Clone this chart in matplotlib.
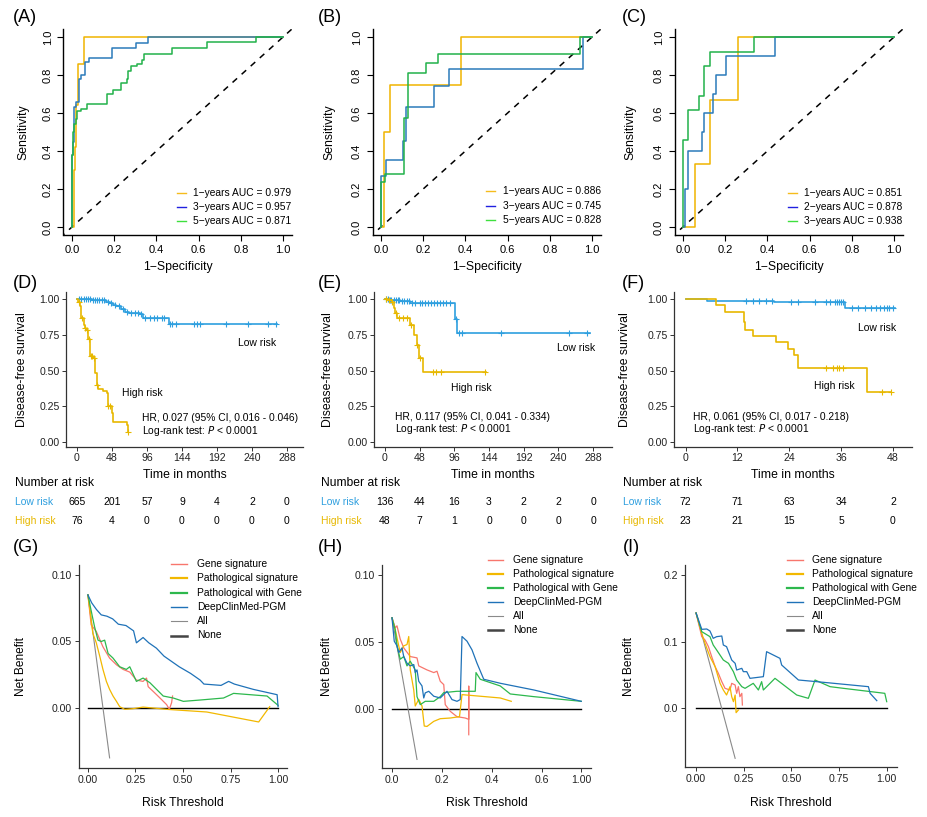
import numpy as np
import matplotlib
matplotlib.use('Agg')
import matplotlib.pyplot as plt
from matplotlib.lines import Line2D
from matplotlib import transforms

plt.rcParams['font.family'] = ['Liberation Sans', 'DejaVu Sans']

## ROC data (1-Specificity, Sensitivity), step 'post'
rocA_1_x = [0, 0.01, 0.015, 0.02, 0.03, 0.058, 1.0]
rocA_1_y = [0, 0.3, 0.42, 0.64, 0.86, 1.0, 1.0]
rocA_3_x = [0, 0, 0.003, 0.008, 0.012, 0.02, 0.033, 0.045, 0.062, 0.08, 0.19, 0.305, 0.36, 1.0]
rocA_3_y = [0, 0.38, 0.45, 0.55, 0.63, 0.66, 0.78, 0.80, 0.87, 0.89, 0.94, 0.97, 1.0, 1.0]
rocA_5_x = [0, 0, 0.005, 0.01, 0.017, 0.025, 0.045, 0.07, 0.167, 0.195, 0.23, 0.26, 0.265, 0.28,
            0.31, 0.33, 0.34, 0.475, 0.64, 0.87, 1.0]
rocA_5_y = [0, 0.38, 0.5, 0.54, 0.57, 0.61, 0.62, 0.645, 0.70, 0.72, 0.76, 0.78, 0.82, 0.85,
            0.86, 0.88, 0.91, 0.94, 0.975, 1.0, 1.0]

rocB_1_x = [0, 0.013, 0.044, 0.38, 1.0]
rocB_1_y = [0, 0.5, 0.75, 1.0, 1.0]
rocB_3_x = [0, 0, 0.025, 0.106, 0.12, 0.25, 0.32, 0.957, 1.0]
rocB_3_y = [0, 0.27, 0.355, 0.455, 0.63, 0.74, 0.83, 1.0, 1.0]
rocB_5_x = [0, 0, 0.02, 0.107, 0.13, 0.215, 0.27, 0.945, 1.0]
rocB_5_y = [0, 0.235, 0.28, 0.575, 0.81, 0.865, 0.91, 1.0, 1.0]

rocC_1_x = [0, 0.055, 0.13, 0.26, 1.0]
rocC_1_y = [0, 0.333, 0.667, 1.0, 1.0]
rocC_2_x = [0, 0.01, 0.022, 0.09, 0.1, 0.14, 0.155, 0.205, 0.435, 1.0]
rocC_2_y = [0, 0.2, 0.4, 0.5, 0.6, 0.7, 0.8, 0.9, 1.0, 1.0]
rocC_3_x = [0, 0, 0.025, 0.075, 0.1, 0.13, 0.335, 1.0]
rocC_3_y = [0, 0.46, 0.615, 0.69, 0.85, 0.92, 1.0, 1.0]

rocA_labels = ['1\u2212years AUC = 0.979', '3\u2212years AUC = 0.957', '5\u2212years AUC = 0.871']
rocB_labels = ['1\u2212years AUC = 0.886', '3\u2212years AUC = 0.745', '5\u2212years AUC = 0.828']
rocC_labels = ['1\u2212years AUC = 0.851', '2\u2212years AUC = 0.878', '3\u2212years AUC = 0.938']

## KM data (months, survival)
kmD_low_t = [0, 20, 32, 40, 45, 50, 54, 60, 66, 72, 77, 86, 91, 123, 126, 275]
kmD_low_s = [1.0, 0.995, 0.99, 0.98, 0.97, 0.96, 0.95, 0.93, 0.91, 0.905, 0.90, 0.895, 0.87, 0.865, 0.826, 0.826]
kmD_high_t = [0, 2, 4, 6, 9, 11, 13, 15.5, 18, 22, 25, 27, 29, 36, 41, 43, 47.5, 50, 68, 70]
kmD_high_s = [1.0, 0.98, 0.95, 0.87, 0.82, 0.80, 0.78, 0.72, 0.60, 0.59, 0.48, 0.40, 0.37, 0.36, 0.34,
              0.25, 0.20, 0.14, 0.12, 0.07]
kmD_low_cens = [3, 6, 9, 12, 15, 18, 22, 25, 28, 30, 34, 37, 42, 47, 52, 57, 63, 69, 74, 80, 84, 88,
                94, 100, 105, 110, 116, 120, 128, 131, 136, 160, 164, 169, 205, 235, 262, 273]
kmD_high_cens = [3, 7, 11, 14, 16, 19, 21, 24, 28, 43, 45, 70]

kmE_low_t = [0, 5, 21, 35, 97, 100, 283]
kmE_low_s = [1.0, 0.995, 0.985, 0.972, 0.86, 0.765, 0.765]
kmE_high_t = [0, 5, 10, 12, 14, 17, 35, 40, 45, 47, 53, 140]
kmE_high_s = [1.0, 0.99, 0.98, 0.94, 0.90, 0.87, 0.82, 0.75, 0.68, 0.59, 0.49, 0.49]
kmE_low_cens = [2, 4, 7, 9, 12, 15, 18, 20, 24, 27, 30, 33, 38, 42, 48, 52, 56, 60, 64, 68, 72,
                76, 80, 85, 90, 99, 103, 106, 160, 255, 280]
kmE_high_cens = [2, 6, 10, 15, 20, 25, 30, 36, 45, 48, 66, 71, 78, 138]

kmF_low_t = [0, 5, 20.5, 37, 48.5]
kmF_low_s = [1.0, 0.988, 0.977, 0.937, 0.937]
kmF_high_t = [0, 7, 9, 13.4, 13.8, 15.7, 21, 23.8, 25, 26, 42, 47.5]
kmF_high_s = [1.0, 0.955, 0.91, 0.84, 0.78, 0.74, 0.70, 0.65, 0.61, 0.52, 0.35, 0.35]
kmF_low_cens = [14, 15.5, 17, 18.5, 20, 24.5, 26, 30, 32.5, 33.5, 34.5, 35, 35.5, 36, 36.5, 38.5,
                40, 41.5, 43, 44, 45, 46, 46.5, 47, 48]
kmF_high_cens = [32.5, 34, 35, 35.5, 36.5, 45.5, 47.5]

## Number at risk
riskD_t = [0, 48, 96, 144, 192, 240, 288]
riskD_low = [665, 201, 57, 9, 4, 2, 0]
riskD_high = [76, 4, 0, 0, 0, 0, 0]
riskE_t = [0, 48, 96, 144, 192, 240, 288]
riskE_low = [136, 44, 16, 3, 2, 2, 0]
riskE_high = [48, 7, 1, 0, 0, 0, 0]
riskF_t = [0, 12, 24, 36, 48]
riskF_low = [72, 71, 63, 34, 2]
riskF_high = [23, 21, 15, 5, 0]

hrD = ['HR, 0.027 (95% CI, 0.016 - 0.046)', 'Log-rank test: $\\it{P}$ < 0.0001']
hrE = ['HR, 0.117 (95% CI, 0.041 - 0.334)', 'Log-rank test: $\\it{P}$ < 0.0001']
hrF = ['HR, 0.061 (95% CI, 0.017 - 0.218)', 'Log-rank test: $\\it{P}$ < 0.0001']

## Decision curves (threshold, net benefit)
dcaG_all_x, dcaG_all_y = [0, 0.114], [0.085, -0.0375]
dcaG_none_x = [0, 1.0]
dcaG_deep_x = [0, 0.02, 0.045, 0.07, 0.10, 0.13, 0.16, 0.20, 0.24, 0.255, 0.29, 0.32, 0.36, 0.40, 0.43,
               0.48, 0.54, 0.59, 0.61, 0.70, 0.74, 0.77, 0.87, 0.995, 1.0]
dcaG_deep_y = [0.085, 0.079, 0.074, 0.070, 0.069, 0.067, 0.063, 0.062, 0.058, 0.049, 0.053, 0.049, 0.045,
               0.039, 0.036, 0.031, 0.026, 0.021, 0.018, 0.017, 0.020, 0.018, 0.014, 0.010, 0.001]
dcaG_pg_x = [0, 0.023, 0.035, 0.053, 0.070, 0.088, 0.106, 0.132, 0.167, 0.202, 0.22, 0.255, 0.29, 0.326,
             0.361, 0.396, 0.449, 0.502, 0.59, 0.713, 0.766, 0.942, 1.0]
dcaG_pg_y = [0.085, 0.069, 0.061, 0.051, 0.050, 0.051, 0.041, 0.0375, 0.031, 0.029, 0.031, 0.020, 0.0225,
             0.019, 0.014, 0.009, 0.0075, 0.005, 0.006, 0.0075, 0.011, 0.009, 0.002]
dcaG_gene_x = [0, 0.017, 0.044, 0.079, 0.114, 0.15, 0.185, 0.22, 0.255, 0.29, 0.308, 0.317, 0.343, 0.379,
               0.414, 0.428, 0.44, 0.445]
dcaG_gene_y = [0.085, 0.0625, 0.0575, 0.046, 0.0375, 0.0325, 0.029, 0.027, 0.021, 0.020, 0.0225, 0.016,
               0.0125, 0.0075, 0.0025, -0.001, 0.004, 0.009]
dcaG_path_x = [0, 0.026, 0.044, 0.062, 0.079, 0.097, 0.114, 0.132, 0.15, 0.167, 0.194, 0.238, 0.29, 0.414,
               0.625, 0.898, 0.956]
dcaG_path_y = [0.085, 0.056, 0.049, 0.039, 0.029, 0.020, 0.014, 0.009, 0.005, 0.001, -0.001, -0.0005,
               0.0007, -0.001, -0.003, -0.0105, 0.001]

dcaH_all_x, dcaH_all_y = [0, 0.1], [0.068, -0.038]
dcaH_none_x = [0, 0.757]
dcaH_deep_x = [0, 0.009, 0.02, 0.027, 0.04, 0.047, 0.06, 0.073, 0.087, 0.093, 0.10, 0.107, 0.12, 0.127,
               0.133, 0.147, 0.167, 0.193, 0.22, 0.24, 0.26, 0.273, 0.28, 0.30, 0.32, 0.34, 0.367, 0.433,
               0.567, 0.757]
dcaH_deep_y = [0.068, 0.0505, 0.047, 0.042, 0.0455, 0.039, 0.034, 0.032, 0.033, 0.027, 0.029, 0.0205,
               0.017, 0.008, 0.0118, 0.013, 0.0093, 0.008, 0.013, 0.0068, 0.0055, 0.0068, 0.054, 0.0505,
               0.044, 0.034, 0.022, 0.019, 0.014, 0.0055]
dcaH_pg_x = [0, 0.013, 0.02, 0.033, 0.047, 0.06, 0.073, 0.093, 0.10, 0.113, 0.133, 0.167, 0.193, 0.207,
             0.26, 0.333, 0.336, 0.353, 0.433, 0.473, 0.567, 0.757]
dcaH_pg_y = [0.068, 0.059, 0.047, 0.037, 0.039, 0.032, 0.0355, 0.029, 0.009, 0.003, 0.0055, 0.0055, 0.009,
             0.012, 0.013, 0.013, 0.027, 0.022, 0.017, 0.011, 0.009, 0.0055]
dcaH_gene_x = [0, 0.013, 0.02, 0.033, 0.047, 0.073, 0.10, 0.107, 0.14, 0.167, 0.18, 0.193, 0.207, 0.213,
               0.233, 0.26, 0.293, 0.307, 0.307, 0.307]
dcaH_gene_y = [0.068, 0.0605, 0.062, 0.052, 0.0455, 0.039, 0.038, 0.032, 0.029, 0.027, 0.028, 0.0205, 0.018,
               0.003, -0.002, -0.006, -0.007, -0.008, 0.0168, -0.0195]
dcaH_path_x = [0, 0.013, 0.027, 0.033, 0.047, 0.06, 0.067, 0.073, 0.087, 0.093, 0.107, 0.12, 0.129, 0.14,
               0.167, 0.193, 0.233, 0.27, 0.28, 0.433, 0.477]
dcaH_path_y = [0.068, 0.059, 0.047, 0.042, 0.047, 0.048, 0.054, 0.029, 0.014, 0.002, 0.007, 0.002, -0.013,
               -0.0133, -0.0095, -0.0075, -0.007, -0.006, 0.0105, 0.008, 0.0055]
dcaH_ticks = [0, 0.2, 0.4, 0.6, 0.757]
dcaH_ticklabels = ['0.0', '0.2', '0.4', '0.6', '1.00']

dcaI_all_x, dcaI_all_y = [0, 0.205], [0.143, -0.075]
dcaI_none_x = [0, 1.0]
dcaI_deep_x = [0, 0.03, 0.056, 0.073, 0.09, 0.108, 0.135, 0.143, 0.16, 0.187, 0.205, 0.213, 0.24, 0.248,
               0.266, 0.283, 0.353, 0.37, 0.44, 0.449, 0.537, 0.633, 0.904, 0.913, 0.948]
dcaI_deep_y = [0.143, 0.1185, 0.119, 0.116, 0.105, 0.1075, 0.1085, 0.095, 0.0925, 0.0725, 0.0675, 0.0575,
               0.06, 0.055, 0.055, 0.045, 0.0475, 0.085, 0.075, 0.065, 0.0425, 0.04, 0.0325, 0.0225, 0.0115]
dcaI_pg_x = [0, 0.03, 0.073, 0.09, 0.108, 0.143, 0.17, 0.196, 0.213, 0.24, 0.257, 0.30, 0.327, 0.344, 0.353,
             0.414, 0.528, 0.589, 0.624, 0.703, 0.773, 0.99, 1.0]
dcaI_pg_y = [0.143, 0.115, 0.1075, 0.095, 0.0875, 0.0725, 0.0675, 0.055, 0.0425, 0.0325, 0.03, 0.0375,
             0.0275, 0.04, 0.0275, 0.045, 0.02, 0.015, 0.0425, 0.0325, 0.03, 0.0225, 0.01]
dcaI_gene_x = [0, 0.03, 0.047, 0.065, 0.082, 0.10, 0.117, 0.135, 0.152, 0.178, 0.187, 0.205, 0.213, 0.222,
               0.23, 0.24, 0.243]
dcaI_gene_y = [0.143, 0.1075, 0.1025, 0.0925, 0.0775, 0.0625, 0.0525, 0.04, 0.03, 0.0275, 0.0375, 0.035,
               0.0225, 0.0325, 0.0175, 0.0225, 0.005]
dcaI_path_x = [0, 0.03, 0.047, 0.073, 0.10, 0.126, 0.143, 0.16, 0.178, 0.187, 0.196, 0.205, 0.21, 0.222]
dcaI_path_y = [0.143, 0.1125, 0.0975, 0.0775, 0.0625, 0.0375, 0.0275, 0.02, 0.0325, 0.0175, 0.01, 0.02,
               -0.0065, -0.0025]

dca_labels = ['Gene signature', 'Pathological signature', 'Pathological with Gene', 'DeepClinMed-PGM',
              'All', 'None']

## colours
roc_cols = ['#F0B400', '#2B7BBA', '#22B24A']
roc_leg_cols = ['#F5BC1C', '#2020E0', '#3EE03E']
low_col, high_col = '#2E9FDF', '#E7B800'
dca_cols = ['#F8766D', '#F2B800', '#2DB84D', '#1F72B8', '#8A8A8A', 'black']
dca_leg_lw = [1.0, 1.6, 1.6, 1.0, 0.8, 1.8]
dca_leg_cols = ['#F8766D', '#F2B800', '#2DB84D', '#1F72B8', '#8A8A8A', '#444444']

W, H = 927, 817
fig = plt.figure(figsize=(W / 100, H / 100), dpi=100)


def fx(px):
    return px / W


def fy(py):
    return 1 - py / H


def box(x0, y0, x1, y1):
    return [fx(x0), fy(y1), (x1 - x0) / W, (y1 - y0) / H]


def classic(ax):
    ax.spines['top'].set_visible(False)
    ax.spines['right'].set_visible(False)


##ROC panels
def roc_panel(rect, curves, labels, ylab_x, leg):
    ax = fig.add_axes(box(*rect))
    classic(ax)
    ax.plot([-0.1, 1.1], [-0.1, 1.1], ls=(0, (4, 4)), color='black', lw=1.1)
    for (xx, yy), c in zip(curves, roc_cols):
        ax.step(xx, yy, where='post', color=c, lw=1.1)
    ax.set_xlim(-0.04, 1.04)
    ax.set_ylim(-0.04, 1.04)
    ticks = [0, 0.2, 0.4, 0.6, 0.8, 1.0]
    ax.set_xticks(ticks)
    ax.set_yticks(ticks)
    ax.set_xticklabels(['%.1f' % t for t in ticks])
    ax.set_yticklabels(['%.1f' % t for t in ticks], rotation=90, va='center')
    ax.tick_params(length=4.5, width=0.8, labelsize=8, pad=3)
    for s in ax.spines.values():
        s.set_linewidth(1.0)
    cx = (rect[0] + rect[2]) / 2
    fig.text(fx(cx), fy(267), '1\u2212Specificity', ha='center', va='center', fontsize=8.8)
    fig.text(fx(ylab_x), fy((rect[1] + rect[3]) / 2), 'Sensitivity', rotation=90,
             ha='center', va='center', fontsize=8.8)
    x0, x1, xt, ys = leg
    for lab, c, y in zip(labels, roc_leg_cols, ys):
        fig.add_artist(Line2D([fx(x0), fx(x1)], [fy(y), fy(y)], color=c, lw=1.0))
        fig.text(fx(xt), fy(y), lab, ha='left', va='center', fontsize=7.4)
    return ax


roc_panel((63.5, 29.4, 291.5, 234.6), [(rocA_1_x, rocA_1_y), (rocA_3_x, rocA_3_y), (rocA_5_x, rocA_5_y)],
          rocA_labels, 23, (177, 186, 193, [193, 207, 221]))
roc_panel((372.5, 29.4, 600.5, 234.6), [(rocB_1_x, rocB_1_y), (rocB_3_x, rocB_3_y), (rocB_5_x, rocB_5_y)],
          rocB_labels, 329, (486, 495, 503, [191, 206, 220]))
roc_panel((674.5, 29.4, 902.5, 234.6), [(rocC_1_x, rocC_1_y), (rocC_2_x, rocC_2_y), (rocC_3_x, rocC_3_y)],
          rocC_labels, 630, (788, 797, 804, [193, 207, 221]))


##Kaplan-Meier panels
def surv_at(t, s, ct):
    idx = np.searchsorted(np.array(t), np.array(ct), side='right') - 1
    return np.array(s)[idx]


def km_panel(rect, xlim, xticks, low, high, low_c, high_c, txt_low, txt_high, hr, hr_pos,
             risk_t, risk_low, risk_high, ylab_x, tab_x):
    ax = fig.add_axes(box(*rect))
    classic(ax)
    for (t, s), cen, c in [(low, low_c, low_col), (high, high_c, high_col)]:
        ax.step(t, s, where='post', color=c, lw=1.2)
        ax.plot(cen, surv_at(t, s, cen), '+', color=c, ms=4, mew=0.8)
    ax.set_xlim(*xlim)
    ax.set_ylim(-0.035, 1.049)
    ax.set_xticks(xticks)
    ax.set_yticks([0, 0.25, 0.5, 0.75, 1.0])
    ax.set_yticklabels(['0.00', '0.25', '0.50', '0.75', '1.00'])
    ax.tick_params(length=3, width=0.7, labelsize=7.6, pad=1.5, colors='#333333', labelcolor='#222222')
    for s in ax.spines.values():
        s.set_linewidth(0.9)
        s.set_color('#333333')
    ax.text(txt_low[0], txt_low[1], 'Low risk', ha='center', va='center', fontsize=7.5)
    ax.text(txt_high[0], txt_high[1], 'High risk', ha='center', va='center', fontsize=7.5)
    ax.text(hr_pos[0], hr_pos[1], hr[0], ha='left', va='center', fontsize=7.4)
    ax.text(hr_pos[0], hr_pos[2], hr[1], ha='left', va='center', fontsize=7.4)
    cx = (rect[0] + rect[2]) / 2
    fig.text(fx(cx), fy(475), 'Time in months', ha='center', va='center', fontsize=8.8)
    fig.text(fx(ylab_x), fy((rect[1] + rect[3]) / 2), 'Disease-free survival', rotation=90,
             ha='center', va='center', fontsize=8.8)
    ## risk table
    fig.text(fx(tab_x), fy(483), 'Number at risk', ha='left', va='center', fontsize=8.7)
    fig.text(fx(tab_x), fy(502), 'Low risk', ha='left', va='center', fontsize=7.5, color=low_col)
    fig.text(fx(tab_x), fy(521), 'High risk', ha='left', va='center', fontsize=7.5, color=high_col)
    trans = transforms.blended_transform_factory(ax.transData, fig.transFigure)
    for t, nl, nh in zip(risk_t, risk_low, risk_high):
        fig.text(t, fy(502), str(nl), transform=trans, ha='center', va='center', fontsize=7.5)
        fig.text(t, fy(521), str(nh), transform=trans, ha='center', va='center', fontsize=7.5)
    return ax


km_panel((66, 292, 303, 447), (-15, 310), riskD_t, (kmD_low_t, kmD_low_s), (kmD_high_t, kmD_high_s),
         kmD_low_cens, kmD_high_cens, (247, 0.69), (90, 0.34), hrD, (89, 0.165, 0.075),
         riskD_t, riskD_low, riskD_high, 22, 15)
km_panel((374, 292, 612, 447), (-15, 314), riskE_t, (kmE_low_t, kmE_low_s), (kmE_high_t, kmE_high_s),
         kmE_low_cens, kmE_high_cens, (264, 0.66), (119, 0.38), hrE, (14, 0.175, 0.09),
         riskE_t, riskE_low, riskE_high, 328, 321)
km_panel((674, 292, 912, 447), (-2.7, 52.4), riskF_t, (kmF_low_t, kmF_low_s), (kmF_high_t, kmF_high_s),
         kmF_low_cens, kmF_high_cens, (44.2, 0.80), (34.5, 0.39), hrF, (1.6, 0.175, 0.09),
         riskF_t, riskF_low, riskF_high, 625, 623)


##Decision curve panels
def dca_panel(rect, xlim, ylim, xticks, xticklabels, yticks, yticklabels, series, ylab_x, leg):
    ax = fig.add_axes(box(*rect))
    classic(ax)
    order = [5, 4, 0, 1, 2, 3]
    for i in order:
        xx, yy = series[i]
        lw = 0.9 if i < 4 else (0.8 if i == 4 else 1.0)
        ax.plot(xx, yy, color=dca_cols[i], lw=lw)
    ax.set_xlim(*xlim)
    ax.set_ylim(*ylim)
    ax.set_xticks(xticks)
    ax.set_xticklabels(xticklabels)
    ax.set_yticks(yticks)
    ax.set_yticklabels(yticklabels)
    ax.tick_params(length=3, width=0.7, labelsize=7.6, pad=2, colors='#333333', labelcolor='#222222')
    for s in ax.spines.values():
        s.set_linewidth(0.9)
        s.set_color('#333333')
    cx = (rect[0] + rect[2]) / 2
    fig.text(fx(cx), fy(803), 'Risk Threshold', ha='center', va='center', fontsize=8.8)
    fig.text(fx(ylab_x), fy((rect[1] + rect[3]) / 2), 'Net Benefit', rotation=90,
             ha='center', va='center', fontsize=8.6)
    x0, x1, xt, y0, dy = leg
    for i, lab in enumerate(dca_labels):
        y = y0 + i * dy
        fig.add_artist(Line2D([fx(x0), fx(x1)], [fy(y), fy(y)], color=dca_leg_cols[i], lw=dca_leg_lw[i]))
        fig.text(fx(xt), fy(y), lab, ha='left', va='center', fontsize=7.4)
    return ax


dca_panel((79, 565, 287, 768), (-0.047, 1.047), (-0.0451, 0.1075),
          [0, 0.25, 0.5, 0.75, 1.0], ['0.00', '0.25', '0.50', '0.75', '1.00'],
          [0, 0.05, 0.10], ['0.00', '0.05', '0.10'],
          [(dcaG_gene_x, dcaG_gene_y), (dcaG_path_x, dcaG_path_y), (dcaG_pg_x, dcaG_pg_y),
           (dcaG_deep_x, dcaG_deep_y), (dcaG_all_x, dcaG_all_y), (dcaG_none_x, [0, 0])],
          21, (171, 187, 197, 564, 14.3))
dca_panel((382, 565, 591, 768), (-0.04, 0.796), (-0.0444, 0.1075),
          dcaH_ticks, dcaH_ticklabels,
          [0, 0.05, 0.10], ['0.00', '0.05', '0.10'],
          [(dcaH_gene_x, dcaH_gene_y), (dcaH_path_x, dcaH_path_y), (dcaH_pg_x, dcaH_pg_y),
           (dcaH_deep_x, dcaH_deep_y), (dcaH_all_x, dcaH_all_y), (dcaH_none_x, [0, 0])],
          327, (488, 503, 513, 560, 14.0))
dca_panel((685, 565, 897, 767), (-0.058, 1.054), (-0.088, 0.215),
          [0, 0.25, 0.5, 0.75, 1.0], ['0.00', '0.25', '0.50', '0.75', '1.00'],
          [0, 0.1, 0.2], ['0.0', '0.1', '0.2'],
          [(dcaI_gene_x, dcaI_gene_y), (dcaI_path_x, dcaI_path_y), (dcaI_pg_x, dcaI_pg_y),
           (dcaI_deep_x, dcaI_deep_y), (dcaI_all_x, dcaI_all_y), (dcaI_none_x, [0, 0])],
          629, (787, 803, 812, 560, 14.0))

##Panel letters
letters = ['(A)', '(B)', '(C)', '(D)', '(E)', '(F)', '(G)', '(H)', '(I)']
letter_x = [13, 318, 622, 13, 318, 622, 13, 318, 623]
letter_y = [18, 18, 18, 284, 284, 284, 548, 548, 548]
for lab, lx, ly in zip(letters, letter_x, letter_y):
    fig.text(fx(lx), fy(ly), lab, ha='left', va='center', fontsize=13)

fig.savefig('out.png', dpi=100)
